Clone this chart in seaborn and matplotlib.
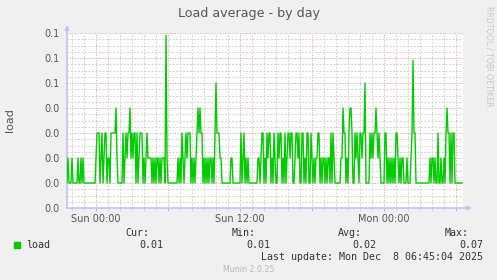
import numpy as np
import pandas as pd
import matplotlib
matplotlib.use("Agg")
import matplotlib.pyplot as plt
import matplotlib.dates as mdates
from matplotlib.ticker import FixedLocator, FixedFormatter, MultipleLocator
from matplotlib.patches import Rectangle
import seaborn as sns

# ---------------- data ----------------
series_name = "load"
start_time = "2025-12-06 21:35"   # first 5-minute sample
end_time = "2025-12-08 06:35"     # right edge of the plot
sample_freq = "5min"

# load average values, in hundredths (one value per 5 minutes)
load_hundredths = [
    1, 2, 1, 1, 1, 2, 1, 1, 1, 1, 1, 2, 1, 1, 2, 1, 2, 1,
    1, 1, 1, 1, 1, 1, 1, 1, 1, 1,
    1, 2, 3, 3, 3, 1, 2, 3, 1, 2, 3, 3, 1, 2, 2, 1, 3, 3, 3, 3,
    3, 4, 2, 1, 1, 1, 1, 1, 3, 1, 2, 3, 2, 3, 3, 4,
    2, 3, 2, 3, 3, 1, 3, 1, 2, 3, 3, 3, 1, 2, 1, 2, 3, 2, 2, 2,
    2, 1, 2, 1, 2, 1, 2, 2, 1, 2, 1, 2, 2, 2, 1, 6.9, 2, 1,
    1, 1, 1, 1, 1, 1, 1, 1, 1,
    2, 1, 2, 1, 3, 2, 1, 2, 3, 2, 3, 3, 3, 1, 2, 1, 2, 1, 2, 3,
    4, 3, 4, 3, 3, 1, 2, 1, 2, 1, 2, 1, 2, 2, 1, 2, 1, 3, 5, 3,
    3, 3, 2, 2, 1, 1,
    1, 1, 1, 1, 1, 1, 1,
    2, 2,
    1, 1, 1, 1, 1, 1, 1, 1,
    3, 1, 2, 3, 1, 2, 1, 2,
    1, 1, 1, 1, 1, 1, 1, 1, 1,
    2, 2, 1, 2, 3, 3, 1,
    2, 1, 3, 2, 3, 3, 1, 2, 1, 3, 2, 1, 1, 3, 2, 3, 3, 1, 2, 1,
    3, 1, 2, 3, 3, 2, 3, 3, 1, 1, 2, 3, 3, 2, 3, 1, 1, 3, 3, 1,
    2, 1, 3, 3, 1, 1, 3, 2, 1, 2, 1, 2, 2, 3, 3, 1, 2, 1, 2, 2,
    1, 2, 1, 2, 2, 1,
    3, 1, 3, 2, 1, 1, 1, 1, 1, 1, 2, 2, 4, 3, 3, 1, 2, 1, 3, 4,
    4, 3, 1, 1, 3, 2, 3, 2, 1, 3, 3, 2, 3, 3, 5, 1, 1, 1, 1, 3,
    2, 3, 2, 3, 3, 4, 3, 2, 3, 2, 1, 1, 1, 1, 3, 3, 1, 2, 1, 2,
    1, 2, 1, 2, 1,
    3, 3, 2, 1, 2, 1, 2, 2, 1, 1, 1, 2, 1, 1, 1, 2, 3, 5.9, 3, 3, 1,
    1, 1, 1, 1, 1, 1, 1, 1, 1, 1, 1, 1, 1,
    2, 1, 2, 2, 1, 2, 1, 1, 3, 1, 1, 2, 1, 1, 2, 1, 3, 4, 3, 3,
    1, 3, 1, 3, 3, 1, 1,
    1, 1, 1, 1, 1, 1,
]

y_ticks = [0.00, 0.01, 0.02, 0.03, 0.04, 0.05, 0.06, 0.07]
y_tick_labels = ["0.0", "0.0", "0.0", "0.0", "0.0", "0.1", "0.1", "0.1"]
x_tick_times = ["2025-12-07 00:00", "2025-12-07 06:00", "2025-12-07 12:00",
                "2025-12-07 18:00", "2025-12-08 00:00", "2025-12-08 06:00"]
x_tick_labels = ["Sun 00:00", "", "Sun 12:00", "", "Mon 00:00", ""]

title = "Load average - by day"
y_label = "load"
stat_headers = ["Cur:", "Min:", "Avg:", "Max:"]
stat_values = ["0.01", "0.01", "0.02", "0.07"]
last_update = "Last update: Mon Dec  8 06:45:04 2025"
footer = "Munin 2.0.25"
watermark = "RRDTOOL / TOBI OETIKER"

# ---------------- figure ----------------
W, H = 497, 280
BG = "#F0F0F0"
GREEN = "#00CC00"
TXT = "#555555"

fig = plt.figure(figsize=(W / 100, H / 100), dpi=100, facecolor=BG)
ax = fig.add_axes([67 / W, (H - 208) / H, 396 / W, 175 / H])
ax.set_facecolor("white")

df = pd.DataFrame({
    "time": pd.date_range(start_time, periods=len(load_hundredths), freq=sample_freq),
    "load": np.array(load_hundredths, dtype=float) / 100.0,
})
sns.lineplot(data=df, x="time", y="load", ax=ax, color=GREEN, linewidth=1.0,
             zorder=5)

ax.set_xlim(pd.Timestamp(start_time), pd.Timestamp(end_time))
ax.set_ylim(0, 0.07)

# y axis
ax.yaxis.set_major_locator(FixedLocator(y_ticks))
ax.yaxis.set_major_formatter(FixedFormatter(y_tick_labels))
ax.yaxis.set_minor_locator(MultipleLocator(0.0025))
# x axis
xt = mdates.date2num(pd.to_datetime(x_tick_times))
ax.xaxis.set_major_locator(FixedLocator(xt))
ax.xaxis.set_major_formatter(FixedFormatter(x_tick_labels))
ax.xaxis.set_minor_locator(mdates.HourLocator())

ax.grid(which="minor", color="#D4D4D4", linewidth=0.72, linestyle=(0, (2, 1.5)), zorder=1)
ax.grid(which="major", color="#F2A0A0", linewidth=0.72, linestyle=(0, (1, 1.5)), zorder=2)
ax.set_axisbelow(True)

ax.tick_params(axis="y", which="both", length=0, pad=5, labelsize=7, labelcolor=TXT)
ax.tick_params(axis="x", which="major", length=2.5, width=0.72, color="#F2A0A0",
               pad=1.5, labelsize=7, labelcolor=TXT)
ax.tick_params(axis="x", which="minor", length=2, width=0.72, color="#D4D4D4")
ax.set_xlabel("")
ax.set_ylabel("")
for s in ax.spines.values():
    s.set_visible(False)

AXC = "#BFC3F2"
ax.annotate("", xy=(0, 1 + 8 / 175), xytext=(0, 0), xycoords="axes fraction",
            arrowprops=dict(arrowstyle="-|>", color=AXC, lw=1.2, mutation_scale=6,
                            shrinkA=0, shrinkB=0), annotation_clip=False)
ax.annotate("", xy=(1 + 9 / 396, 0), xytext=(0, 0), xycoords="axes fraction",
            arrowprops=dict(arrowstyle="-|>", color=AXC, lw=1.2, mutation_scale=6,
                            shrinkA=0, shrinkB=0), annotation_clip=False)

def fx(px):
    return px / W

def fy(py):
    return 1 - py / H

fig.text(0.5, fy(13), title, ha="center", va="center", fontsize=9.1,
         color=TXT, family="DejaVu Sans")
fig.text(fx(10), fy(120), y_label, ha="center", va="center", rotation=90,
         fontsize=8, color=TXT, family="DejaVu Sans")
fig.text(fx(489), fy(56), watermark, ha="center", va="center", rotation=270,
         fontsize=5.7, color="#C8C8C8", family="DejaVu Sans")

mono = "DejaVu Sans Mono"
fig.patches.append(Rectangle((fx(14), fy(248)), 6 / W, 6 / H,
                             transform=fig.transFigure, color=GREEN))
fig.text(fx(26), fy(245), series_name, ha="left", va="center", fontsize=7.2,
         color="#333333", family=mono)
head_right = [149, 256, 362, 469]
for hdr, val, xr in zip(stat_headers, stat_values, head_right):
    fig.text(fx(xr), fy(233), hdr, ha="right", va="center", fontsize=7.2,
             color="#333333", family=mono)
    fig.text(fx(xr + 14), fy(245), val, ha="right", va="center", fontsize=7.2,
             color="#333333", family=mono)
fig.text(fx(483), fy(257), last_update, ha="right", va="center", fontsize=7.2,
         color="#333333", family=mono)
fig.text(fx(249), fy(269), footer, ha="center", va="center", fontsize=5.7,
         color="#B8B8B8", family="DejaVu Sans")

fig.savefig("out.png", dpi=100, facecolor=BG)
